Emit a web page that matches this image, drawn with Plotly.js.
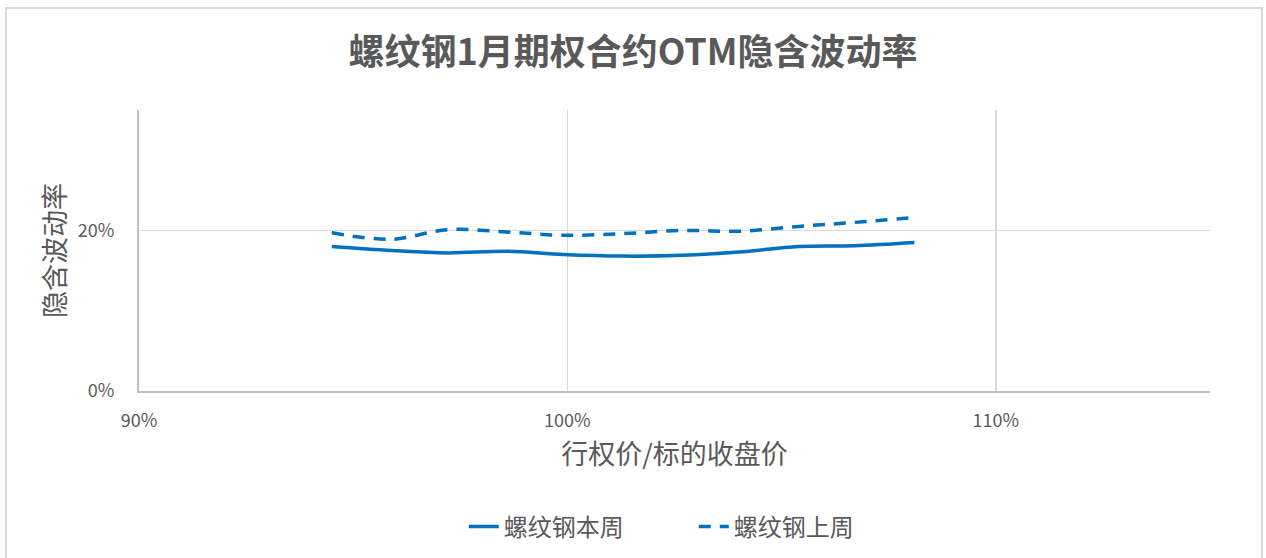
<!DOCTYPE html>
<html>
<head>
<meta charset="utf-8">
<script src="https://cdn.plot.ly/plotly-3.0.1.min.js"></script>
<style>
  html, body { margin: 0; padding: 0; background: #ffffff; }
  #chart { width: 1266px; height: 558px; }
</style>
</head>
<body>
<div id="chart"></div>
<script>
// Strike / underlying close (%)
const moneyness = [94.5, 95.9, 97.2, 98.6, 99.9, 101.3, 102.7, 104.0, 105.4, 106.7, 108.1];
// Implied volatility (%)
const ivThisWeek = [18.0, 17.5, 17.2, 17.4, 17.0, 16.8, 16.9, 17.3, 18.0, 18.1, 18.5];
const ivLastWeek = [19.7, 18.9, 20.1, 19.8, 19.4, 19.6, 20.0, 19.9, 20.5, 21.0, 21.6];
const seriesNames = ['螺纹钢本周', '螺纹钢上周'];
const xTicks = [90, 100, 110];
const xTickLabels = ['90%', '100%', '110%'];
const yTicks = [0, 20];
const yTickLabels = ['0%', '20%'];
const chartTitle = '螺纹钢1月期权合约OTM隐含波动率';
const xTitle = '行权价/标的收盘价';
const yTitle = '隐含波动率';

const FONT = '"Noto Sans CJK SC", "Noto Sans", sans-serif';
const GREY = '#595959';
const BLUE = '#0070C0';

const traces = [
  {
    x: moneyness, y: ivThisWeek, name: seriesNames[0], type: 'scatter', mode: 'lines',
    line: { color: BLUE, width: 3.5, shape: 'spline', smoothing: 1 }
  },
  {
    x: moneyness, y: ivLastWeek, name: seriesNames[1], type: 'scatter', mode: 'lines',
    line: { color: BLUE, width: 3.5, shape: 'spline', smoothing: 1, dash: '12px,9px' }
  }
];

const L = 139, R = 56, T = 110, B = 167, W = 1266, H = 558;
const pw = W - L - R, ph = H - T - B;
const px = v => (v - L) / pw;
const py = v => (H - B - v) / ph;

const layout = {
  width: W, height: H,
  margin: { l: L, r: R, t: T, b: B, pad: 0 },
  paper_bgcolor: '#ffffff', plot_bgcolor: '#ffffff',
  font: { family: FONT, color: GREY },
  title: {
    text: '<b>' + chartTitle + '</b>',
    font: { family: FONT, size: 36, color: GREY },
    x: 0.5, xanchor: 'center', xref: 'container',
    y: 1 - 52 / H, yanchor: 'middle', yref: 'container'
  },
  xaxis: {
    range: [90, 115], tickmode: 'array', tickvals: xTicks, ticktext: xTickLabels,
    showgrid: true, gridcolor: '#d9d9d9', gridwidth: 1.5,
    showline: true, linecolor: '#bfbfbf', linewidth: 2,
    zeroline: false, ticks: 'outside', ticklen: 12, tickcolor: 'rgba(0,0,0,0)',
    tickfont: { family: FONT, size: 18, color: GREY },
    title: { text: xTitle, font: { family: FONT, size: 27, color: GREY }, standoff: 15 },
    fixedrange: true
  },
  yaxis: {
    range: [0, 35], tickmode: 'array', tickvals: yTicks, ticktext: yTickLabels,
    showgrid: true, gridcolor: '#d9d9d9', gridwidth: 1.5,
    showline: true, linecolor: '#bfbfbf', linewidth: 2,
    zeroline: false, ticks: 'outside', ticklen: 19, tickcolor: 'rgba(0,0,0,0)',
    tickfont: { family: FONT, size: 18, color: GREY },
    title: { text: yTitle, font: { family: FONT, size: 27, color: GREY }, standoff: 4 },
    fixedrange: true
  },
  showlegend: true,
  legend: {
    orientation: 'h', xref: 'container', yref: 'container',
    x: 0.548, xanchor: 'center', y: 1 - 527 / H, yanchor: 'middle',
    font: { family: FONT, size: 24, color: GREY },
    entrywidth: 185, entrywidthmode: 'pixels', itemwidth: 30, tracegroupgap: 0
  },
  shapes: [
    {
      type: 'rect', xref: 'paper', yref: 'paper', layer: 'below',
      x0: px(6), x1: px(1262), y0: py(600), y1: py(8),
      line: { color: '#d9d9d9', width: 2 }, fillcolor: 'rgba(0,0,0,0)'
    }
  ]
};

Plotly.newPlot('chart', traces, layout, { displayModeBar: false, staticPlot: true });
</script>
</body>
</html>
